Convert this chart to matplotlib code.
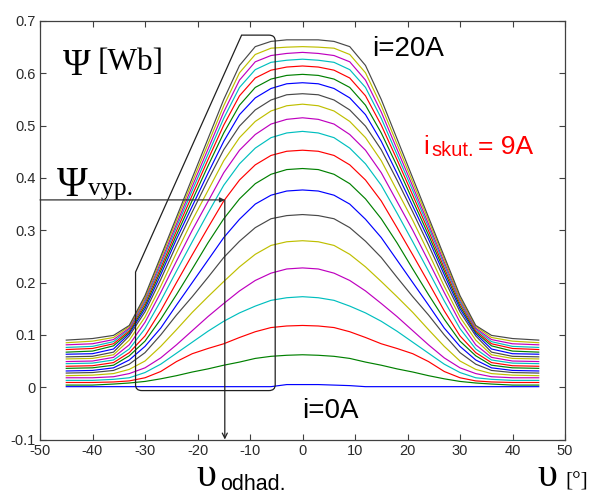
import matplotlib
matplotlib.use("Agg")
import matplotlib.pyplot as plt
from matplotlib.path import Path
from matplotlib.patches import PathPatch

plt.rcParams["axes.unicode_minus"] = False

# rotor position [deg]
theta = [-45, -40, -36, -33, -30, -27, -24, -21, -18, -15, -12, -9, -6, -3, 0,
         3, 6, 9, 12, 15, 18, 21, 24, 27, 30, 33, 36, 40, 45]

# flux linkage [Wb] for phase currents 0 A ... 20 A
psi_0 = [0.001, 0.001, 0.001, 0.001, 0.001, 0.001, 0.001, 0.001, 0.001, 0.001, 0.001, 0.001, 0.001, 0.005, 0.005,
         0.005, 0.004, 0.003, 0.001, 0.001, 0.001, 0.001, 0.001, 0.001, 0.001, 0.001, 0.001, 0.001, 0.001]
psi_1 = [0.004, 0.004, 0.006, 0.008, 0.011, 0.016, 0.022, 0.029, 0.035, 0.042, 0.048, 0.055, 0.059, 0.061, 0.062,
         0.061, 0.059, 0.055, 0.048, 0.042, 0.035, 0.029, 0.022, 0.016, 0.011, 0.008, 0.006, 0.004, 0.004]
psi_2 = [0.009, 0.009, 0.010, 0.012, 0.018, 0.030, 0.049, 0.064, 0.074, 0.083, 0.095, 0.106, 0.114, 0.117, 0.118,
         0.117, 0.114, 0.106, 0.095, 0.083, 0.074, 0.064, 0.049, 0.030, 0.018, 0.012, 0.010, 0.009, 0.009]
psi_3 = [0.013, 0.013, 0.015, 0.018, 0.028, 0.044, 0.065, 0.086, 0.107, 0.126, 0.142, 0.155, 0.166, 0.171, 0.173,
         0.171, 0.166, 0.155, 0.142, 0.126, 0.107, 0.086, 0.065, 0.044, 0.028, 0.018, 0.015, 0.013, 0.013]
psi_4 = [0.018, 0.018, 0.020, 0.026, 0.037, 0.056, 0.081, 0.108, 0.135, 0.160, 0.184, 0.204, 0.218, 0.226, 0.228,
         0.226, 0.218, 0.204, 0.184, 0.160, 0.135, 0.108, 0.081, 0.056, 0.037, 0.026, 0.020, 0.018, 0.018]
psi_5 = [0.022, 0.023, 0.026, 0.034, 0.050, 0.078, 0.110, 0.143, 0.173, 0.202, 0.230, 0.254, 0.271, 0.278, 0.280,
         0.278, 0.271, 0.254, 0.230, 0.202, 0.173, 0.143, 0.110, 0.078, 0.050, 0.034, 0.026, 0.023, 0.022]
psi_6 = [0.027, 0.028, 0.032, 0.044, 0.066, 0.100, 0.138, 0.173, 0.210, 0.248, 0.279, 0.305, 0.322, 0.328, 0.330,
         0.328, 0.322, 0.305, 0.279, 0.248, 0.210, 0.173, 0.138, 0.100, 0.066, 0.044, 0.032, 0.028, 0.027]
psi_7 = [0.031, 0.032, 0.037, 0.052, 0.078, 0.113, 0.157, 0.200, 0.243, 0.286, 0.321, 0.350, 0.367, 0.375, 0.377,
         0.375, 0.367, 0.350, 0.321, 0.286, 0.243, 0.200, 0.157, 0.113, 0.078, 0.052, 0.037, 0.032, 0.031]
psi_8 = [0.036, 0.037, 0.042, 0.060, 0.088, 0.130, 0.177, 0.226, 0.276, 0.322, 0.360, 0.389, 0.407, 0.416, 0.418,
         0.416, 0.407, 0.389, 0.360, 0.322, 0.276, 0.226, 0.177, 0.130, 0.088, 0.060, 0.042, 0.037, 0.036]
psi_9 = [0.040, 0.041, 0.047, 0.066, 0.098, 0.146, 0.200, 0.253, 0.305, 0.356, 0.396, 0.425, 0.443, 0.451, 0.453,
         0.451, 0.443, 0.425, 0.396, 0.356, 0.305, 0.253, 0.200, 0.146, 0.098, 0.066, 0.047, 0.041, 0.040]
psi_10 = [0.045, 0.046, 0.052, 0.073, 0.112, 0.165, 0.222, 0.278, 0.333, 0.386, 0.427, 0.457, 0.477, 0.486, 0.489,
          0.486, 0.477, 0.457, 0.427, 0.386, 0.333, 0.278, 0.222, 0.165, 0.112, 0.073, 0.052, 0.046, 0.045]
psi_11 = [0.049, 0.050, 0.057, 0.081, 0.124, 0.181, 0.241, 0.300, 0.355, 0.410, 0.453, 0.483, 0.503, 0.512, 0.515,
          0.512, 0.503, 0.483, 0.453, 0.410, 0.355, 0.300, 0.241, 0.181, 0.124, 0.081, 0.057, 0.050, 0.049]
psi_12 = [0.054, 0.055, 0.062, 0.090, 0.134, 0.193, 0.257, 0.319, 0.376, 0.433, 0.477, 0.508, 0.528, 0.538, 0.541,
          0.538, 0.528, 0.508, 0.477, 0.433, 0.376, 0.319, 0.257, 0.193, 0.134, 0.090, 0.062, 0.055, 0.054]
psi_13 = [0.058, 0.059, 0.067, 0.098, 0.144, 0.206, 0.272, 0.335, 0.396, 0.454, 0.499, 0.530, 0.549, 0.559, 0.561,
          0.559, 0.549, 0.530, 0.499, 0.454, 0.396, 0.335, 0.272, 0.206, 0.144, 0.098, 0.067, 0.059, 0.058]
psi_14 = [0.063, 0.064, 0.073, 0.102, 0.150, 0.215, 0.283, 0.346, 0.409, 0.470, 0.521, 0.553, 0.571, 0.580, 0.582,
          0.580, 0.571, 0.553, 0.521, 0.470, 0.409, 0.346, 0.283, 0.215, 0.150, 0.102, 0.073, 0.064, 0.063]
psi_15 = [0.067, 0.069, 0.079, 0.105, 0.155, 0.222, 0.291, 0.357, 0.423, 0.486, 0.539, 0.573, 0.589, 0.596, 0.598,
          0.596, 0.589, 0.573, 0.539, 0.486, 0.423, 0.357, 0.291, 0.222, 0.155, 0.105, 0.079, 0.069, 0.067]
psi_16 = [0.072, 0.074, 0.083, 0.108, 0.160, 0.228, 0.299, 0.367, 0.435, 0.501, 0.557, 0.591, 0.606, 0.612, 0.614,
          0.612, 0.606, 0.591, 0.557, 0.501, 0.435, 0.367, 0.299, 0.228, 0.160, 0.108, 0.083, 0.074, 0.072]
psi_17 = [0.076, 0.078, 0.087, 0.111, 0.164, 0.234, 0.306, 0.376, 0.445, 0.514, 0.573, 0.607, 0.621, 0.625, 0.627,
          0.625, 0.621, 0.607, 0.573, 0.514, 0.445, 0.376, 0.306, 0.234, 0.164, 0.111, 0.087, 0.078, 0.076]
psi_18 = [0.081, 0.083, 0.091, 0.113, 0.168, 0.239, 0.312, 0.384, 0.455, 0.526, 0.587, 0.622, 0.634, 0.638, 0.640,
          0.638, 0.634, 0.622, 0.587, 0.526, 0.455, 0.384, 0.312, 0.239, 0.168, 0.113, 0.091, 0.083, 0.081]
psi_19 = [0.085, 0.088, 0.095, 0.116, 0.171, 0.245, 0.319, 0.392, 0.465, 0.538, 0.601, 0.636, 0.648, 0.650, 0.651,
          0.650, 0.648, 0.636, 0.601, 0.538, 0.465, 0.392, 0.319, 0.245, 0.171, 0.116, 0.095, 0.088, 0.085]
psi_20 = [0.090, 0.093, 0.099, 0.118, 0.175, 0.250, 0.325, 0.400, 0.475, 0.550, 0.615, 0.651, 0.661, 0.664, 0.664,
          0.664, 0.661, 0.651, 0.615, 0.550, 0.475, 0.400, 0.325, 0.250, 0.175, 0.118, 0.099, 0.093, 0.090]

psi_curves = [psi_0, psi_1, psi_2, psi_3, psi_4, psi_5, psi_6, psi_7, psi_8, psi_9, psi_10,
              psi_11, psi_12, psi_13, psi_14, psi_15, psi_16, psi_17, psi_18, psi_19, psi_20]

x_ticks = [-50, -40, -30, -20, -10, 0, 10, 20, 30, 40, 50]
x_tick_labels = ["-50", "-40", "-30", "-20", "-10", "0", "10", "20", "30", "40", "50"]
y_ticks = [-0.1, 0.0, 0.1, 0.2, 0.3, 0.4, 0.5, 0.6, 0.7]
y_tick_labels = ["-0.1", "0", "0.1", "0.2", "0.3", "0.4", "0.5", "0.6", "0.7"]

# estimated operating point (flux of the 9 A curve)
theta_est = -14.8
psi_calc = 0.358

# classic MATLAB line colour order
line_colors = ["#0000ff", "#008000", "#ff0000", "#00bfbf", "#bf00bf", "#bfbf00", "#484848"]

fig = plt.figure(figsize=(5.89, 4.95), dpi=100)
ax = fig.add_axes([40 / 589, 55.5 / 495, 525 / 589, 418.5 / 495])

for k, psi in enumerate(psi_curves):
    ax.plot(theta, psi, color=line_colors[k % len(line_colors)], lw=0.85)

ax.set_xlim(-50, 50)
ax.set_ylim(-0.1, 0.7)
ax.set_xticks(x_ticks)
ax.set_xticklabels(x_tick_labels)
ax.set_yticks(y_ticks)
ax.set_yticklabels(y_tick_labels)
for lab in ax.get_xticklabels() + ax.get_yticklabels():
    lab.set_family("Liberation Sans")
ax.tick_params(direction="in", length=4.5, width=0.8, top=True, right=True,
               labelsize=10.5, colors="#404040", labelcolor="#2a2a2a", pad=3)
for sp in ax.spines.values():
    sp.set_color("#404040")
    sp.set_linewidth(0.9)

# envelope outline around the rising edge
xl, xr, yb, yk, yt, xs = -31.8, -5.2, -0.0065, 0.220, 0.673, -11.6
rx, ry = 1.2, 0.011
verts = [(xl, yb + ry), (xl, yk), (xs, yt), (xr - rx, yt), (xr, yt), (xr, yt - ry),
         (xr, yb + ry), (xr, yb), (xr - rx, yb), (xl + rx, yb), (xl, yb), (xl, yb + ry)]
codes = [Path.MOVETO, Path.LINETO, Path.LINETO, Path.LINETO, Path.CURVE3, Path.CURVE3,
         Path.LINETO, Path.CURVE3, Path.CURVE3, Path.LINETO, Path.CURVE3, Path.CURVE3]
ax.add_patch(PathPatch(Path(verts, codes), fill=False, edgecolor="#202020", lw=0.9, zorder=5))

# read-out arrows
ax.annotate("", xy=(theta_est, psi_calc), xytext=(-50, psi_calc),
            arrowprops=dict(arrowstyle="-|>", color="#303030", lw=0.9, mutation_scale=7,
                            shrinkA=0, shrinkB=0), zorder=6)
ax.annotate("", xy=(theta_est, -0.1), xytext=(theta_est, psi_calc),
            arrowprops=dict(arrowstyle="->", color="#202020", lw=0.9, mutation_scale=9,
                            shrinkA=0, shrinkB=0), zorder=6, annotation_clip=False)

serif = "Liberation Serif"
sans = "Liberation Sans"

ax.text(-45.6, 0.597, "\u03a8", fontsize=27, family=serif, va="baseline", ha="left")
ax.text(-39.1, 0.606, "[Wb]", fontsize=22.5, family=serif, va="baseline", ha="left")

ax.text(-46.8, 0.365, "\u03a8", fontsize=30, family=serif, va="baseline", ha="left")
ax.text(-40.9, 0.367, "vyp.", fontsize=18.5, family=serif, va="baseline", ha="left")

ax.text(13.2, 0.633, "i=20A", fontsize=20, family=sans, va="baseline", ha="left")
ax.text(-0.1, -0.059, "i=0A", fontsize=20, family=sans, va="baseline", ha="left")

ax.text(23.0, 0.4453, "i", fontsize=18.5, family=sans, color="#ff0000", va="baseline", ha="left")
ax.text(24.6, 0.442, "skut.", fontsize=14.5, family=sans, color="#ff0000", va="baseline", ha="left")
ax.text(33.4, 0.4453, "= 9A", fontsize=19, family=sans, color="#ff0000", va="baseline", ha="left")

ax.text(-20.1, -0.1889, "\u03c5", fontsize=29, family=serif, va="baseline", ha="left", clip_on=False)
ax.text(-15.6, -0.1966, "odhad.", fontsize=15.5, family=sans, va="baseline", ha="left", clip_on=False)

ax.text(44.8, -0.1889, "\u03c5", fontsize=29, family=serif, va="baseline", ha="left", clip_on=False)
ax.text(50.1, -0.1889, "[\u00b0]", fontsize=15.5, family=serif, va="baseline", ha="left", clip_on=False)

fig.savefig("out.png", dpi=100)
